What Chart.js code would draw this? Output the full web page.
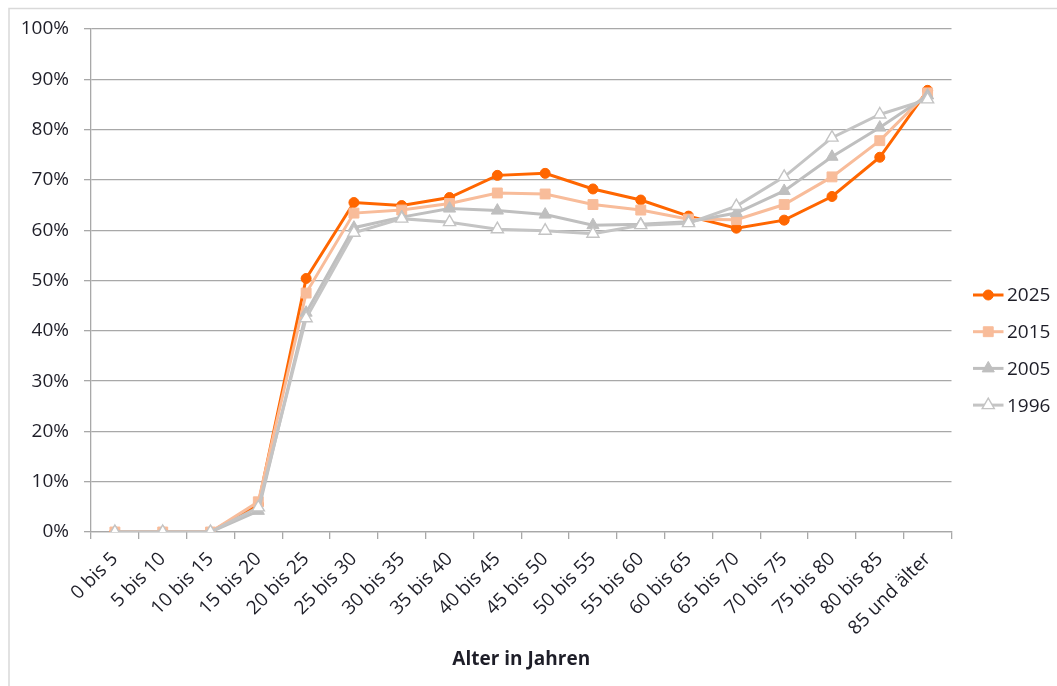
<!DOCTYPE html>
<html lang="de">
<head>
<meta charset="utf-8">
<title>Anteil nach Altersgruppen</title>
<script src="https://cdn.jsdelivr.net/npm/chart.js@4/dist/chart.umd.min.js"></script>
<style>
  html, body { margin: 0; padding: 0; background: #ffffff; }
  #wrap { width: 1057px; height: 686px; position: relative; }
</style>
</head>
<body>
<div id="wrap"><canvas id="chart" width="1057" height="686"></canvas></div>
<script>
// Age groups on the x axis
const ageGroups = ["0 bis 5", "5 bis 10", "10 bis 15", "15 bis 20", "20 bis 25", "25 bis 30",
  "30 bis 35", "35 bis 40", "40 bis 45", "45 bis 50", "50 bis 55", "55 bis 60",
  "60 bis 65", "65 bis 70", "70 bis 75", "75 bis 80", "80 bis 85", "85 und älter"];

// Shares in percent per year
const values2025 = [0, 0, 0, 5.5, 50.4, 65.5, 64.9, 66.5, 70.9, 71.3, 68.2, 66.0, 62.8, 60.4, 62.0, 66.7, 74.5, 87.8];
const values2015 = [0, 0, 0, 6.0, 47.5, 63.4, 64.0, 65.3, 67.4, 67.2, 65.1, 64.0, 62.2, 62.1, 65.1, 70.6, 77.8, 87.3];
const values2005 = [0, 0, 0, 4.2, 43.6, 60.5, 62.6, 64.3, 63.9, 63.1, 61.0, 61.2, 61.7, 63.4, 67.8, 74.6, 80.4, 86.8];
const values1996 = [0, 0, 0, 4.9, 42.5, 59.5, 62.3, 61.6, 60.2, 59.9, 59.3, 61.0, 61.4, 64.8, 70.6, 78.4, 83.0, 86.0];

const yTicks = [0, 10, 20, 30, 40, 50, 60, 70, 80, 90, 100];

const FONT = "'Open Sans', 'Liberation Sans', sans-serif";
const TEXT = '#1e1e28';
const GRID = '#a8a8a8';

const seriesStyles = [
  { label: '2025', data: values2025, color: '#ff6600', fill: '#ff6600', style: 'circle', r: 5, bw: 1 },
  { label: '2015', data: values2015, color: '#f8bc9a', fill: '#f8bc9a', style: 'rect', r: 7, bw: 1 },
  { label: '2005', data: values2005, color: '#bfbfbf', fill: '#bfbfbf', style: 'triangle', r: 7, bw: 1 },
  { label: '1996', data: values1996, color: '#c4c4c4', fill: '#ffffff', style: 'triangle', r: 7, bw: 1.4 }
];

const datasets = seriesStyles.map((s, i) => ({
  label: s.label,
  data: s.data,
  borderColor: s.color,
  backgroundColor: s.fill,
  borderWidth: 3,
  pointStyle: s.style,
  pointRadius: s.r,
  pointHoverRadius: s.r,
  pointBackgroundColor: s.fill,
  pointBorderColor: s.color,
  pointBorderWidth: s.bw,
  tension: 0,
  fill: false,
  order: seriesStyles.length - i   // later years are painted on top
}));

// Frame lines and the legend at the right side
const decorations = {
  id: 'decorations',
  beforeDraw(chart) {
    const ctx = chart.ctx;
    ctx.save();
    ctx.fillStyle = '#ffffff';
    ctx.fillRect(0, 0, chart.width, chart.height);
    ctx.strokeStyle = '#d9d9d9';
    ctx.lineWidth = 1.5;
    ctx.beginPath();
    ctx.moveTo(9, chart.height);
    ctx.lineTo(9, 8.5);
    ctx.lineTo(chart.width, 8.5);
    ctx.stroke();
    ctx.restore();
  },
  afterDraw(chart) {
    const ctx = chart.ctx;
    const area = chart.chartArea;
    const x0 = area.right + 21.5;
    const lineLen = 30.5;
    const gap = 36.7;
    const yStart = 295;
    ctx.save();
    chart.data.datasets.forEach((ds, i) => {
      const y = yStart + i * gap;
      ctx.strokeStyle = ds.borderColor;
      ctx.lineWidth = ds.borderWidth;
      ctx.beginPath();
      ctx.moveTo(x0, y);
      ctx.lineTo(x0 + lineLen, y);
      ctx.stroke();
      ctx.fillStyle = ds.pointBackgroundColor;
      ctx.strokeStyle = ds.pointBorderColor;
      ctx.lineWidth = ds.pointBorderWidth;
      Chart.helpers.drawPoint(ctx, {
        pointStyle: ds.pointStyle,
        radius: ds.pointRadius,
        rotation: 0,
        borderWidth: ds.pointBorderWidth
      }, x0 + lineLen / 2, y);
      ctx.fillStyle = TEXT;
      ctx.font = "19px " + FONT;
      ctx.textAlign = 'left';
      ctx.textBaseline = 'middle';
      ctx.fillText(ds.label, x0 + lineLen + 3.5, y + 1);
    });
    ctx.restore();
  }
};

new Chart(document.getElementById('chart'), {
  type: 'line',
  data: { labels: ageGroups, datasets },
  plugins: [decorations],
  options: {
    responsive: false,
    animation: false,
    devicePixelRatio: 1,
    layout: { padding: { left: 0, top: 29, right: 105.5, bottom: 0 } },
    plugins: {
      legend: { display: false },
      tooltip: { enabled: false }
    },
    scales: {
      x: {
        type: 'category',
        offset: true,
        afterFit(scale) { scale.height = 154; },
        grid: {
          offset: true,
          drawOnChartArea: false,
          color: GRID,
          lineWidth: 1.3,
          tickLength: 7
        },
        border: { display: true, color: GRID, width: 1.3 },
        ticks: {
          autoSkip: false,
          minRotation: 45,
          maxRotation: 45,
          padding: 9,
          color: TEXT,
          font: { family: FONT, size: 19 }
        },
        title: {
          display: true,
          text: 'Alter in Jahren',
          color: TEXT,
          font: { family: FONT, size: 19, weight: 'bold' },
          padding: { top: 0, bottom: 15 }
        }
      },
      y: {
        min: 0,
        max: 100,
        afterFit(scale) { scale.width = 91; },
        afterBuildTicks(scale) { scale.ticks = yTicks.map(v => ({ value: v })); },
        grid: { color: GRID, lineWidth: 1.3, tickLength: 7 },
        border: { display: true, color: GRID, width: 1.3 },
        ticks: {
          padding: 15,
          color: TEXT,
          font: { family: FONT, size: 19 },
          callback: v => v + '%'
        }
      }
    }
  }
});
</script>
</body>
</html>
